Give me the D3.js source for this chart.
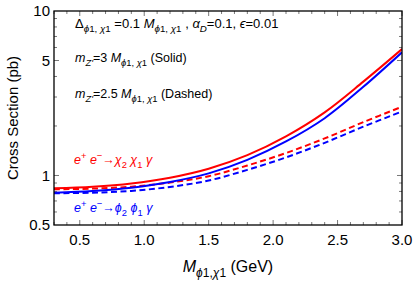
<!DOCTYPE html>
<html><head><meta charset="utf-8">
<script src="https://cdn.jsdelivr.net/npm/d3@7"></script>
<style>body{margin:0;background:#fff}svg{display:block}text{font-family:"Liberation Sans",Arial,sans-serif}</style>
</head><body>
<script>
const masses = [0.3,0.6,0.9,1.2,1.5,1.8,2.1,2.4,2.7,3.0];
const chiSolid = [0.836,0.855,0.895,0.970,1.100,1.330,1.730,2.420,3.720,5.865];
const phiSolid = [0.785,0.805,0.843,0.913,1.030,1.245,1.610,2.230,3.460,5.610];
const chiDashed = [0.824,0.832,0.855,0.905,0.990,1.150,1.370,1.680,2.110,2.618];
const phiDashed = [0.780,0.786,0.806,0.852,0.932,1.082,1.288,1.580,1.980,2.450];
const xTickLabels = [0.5,1.0,1.5,2.0,2.5,3.0];
const yTickLabels = [0.5,1,5,10];

const W=415,H=283;
const L=54,R=402,T=11,B=225;
const svg=d3.select("body").append("svg").attr("width",W).attr("height",H);
const x=d3.scaleLinear().domain([0.3,3.0]).range([L,R]);
const y=d3.scaleLog().domain([0.5,10]).range([B,T]);

// minor/major ticks
const xMinor=d3.range(3,31).map(d=>d/10);
const yMinor=[0.6,0.7,0.8,0.9,2,3,4,6,7,8,9];
const tk=svg.append("g").attr("stroke","#555").attr("stroke-width",0.8);
xMinor.forEach(v=>{
  const major=xTickLabels.some(m=>Math.abs(m-v)<1e-6);
  const len=major?5:3;
  tk.append("line").attr("x1",x(v)).attr("x2",x(v)).attr("y1",B).attr("y2",B-len);
  tk.append("line").attr("x1",x(v)).attr("x2",x(v)).attr("y1",T).attr("y2",T+len);
});
yMinor.concat([1,5]).forEach(v=>{
  const major=yTickLabels.includes(v);
  const len=major?5:3;
  tk.append("line").attr("y1",y(v)).attr("y2",y(v)).attr("x1",L).attr("x2",L+len);
  tk.append("line").attr("y1",y(v)).attr("y2",y(v)).attr("x1",R).attr("x2",R-len);
});

// curves
const line=d3.line().x(d=>x(d[0])).y(d=>y(d[1])).curve(d3.curveCatmullRom.alpha(0.5));
const series=[
  {v:phiDashed,c:"#0000ff",dash:"6,3.5"},
  {v:chiDashed,c:"#ff0000",dash:"6,3.5"},
  {v:phiSolid,c:"#0000ff",dash:null},
  {v:chiSolid,c:"#ff0000",dash:null}
];
svg.append("clipPath").attr("id","clip").append("rect").attr("x",L).attr("y",T).attr("width",R-L).attr("height",B-T);
const cg=svg.append("g").attr("clip-path","url(#clip)");
series.forEach(s=>{
  cg.append("path").attr("d",line(masses.map((m,i)=>[m,s.v[i]])))
    .attr("fill","none").attr("stroke",s.c).attr("stroke-width",2)
    .attr("stroke-dasharray",s.dash);
});

// frame
svg.append("rect").attr("x",L).attr("y",T).attr("width",R-L).attr("height",B-T)
  .attr("fill","none").attr("stroke","#000").attr("stroke-width",1.3);

// tick labels
svg.append("g").selectAll("text").data(xTickLabels).join("text")
  .attr("x",d=>x(d)).attr("y",B+20).attr("text-anchor","middle")
  .attr("font-size",15).text(d=>d.toFixed(1));
svg.append("g").selectAll("text").data(yTickLabels).join("text")
  .attr("x",L-4).attr("y",d=>y(d)+5.4).attr("text-anchor","end")
  .attr("font-size",15).text(d=>d);

// rich text helper
function rich(g,xp,yp,parts,size,color,anchor,subScale){
  const ss=subScale||0.75;
  const t=g.append("text").attr("x",xp).attr("y",yp).attr("font-size",size).attr("fill",color||"#000");
  if(anchor) t.attr("text-anchor",anchor);
  let shift=0;
  parts.forEach(p=>{
    const target = p.sub? size*0.32 : (p.sup? -size*0.4 : 0);
    const s=t.append("tspan").attr("dy",target-shift).text(p.t);
    shift=target;
    if(p.sub||p.sup) s.attr("font-size",size*ss);
    if(p.it) s.attr("font-style","italic");
  });
  return t;
}
const g=svg.append("g");
rich(g,75,28,[{t:"Δ"},{t:"ϕ",sub:1,it:1},{t:"1",sub:1},{t:",  ",sub:1},{t:"χ",sub:1,it:1},{t:"1",sub:1},
  {t:" =0.1 "},{t:"M",it:1},{t:"ϕ",sub:1,it:1},{t:"1",sub:1},{t:",  ",sub:1},{t:"χ",sub:1,it:1},{t:"1",sub:1},
  {t:" , "},{t:"α",it:1},{t:"D",sub:1,it:1},{t:"=0.1, "},{t:"ϵ",it:1},{t:"=0.01"}],13);
rich(g,75,62,[{t:"m",it:1},{t:"Z'",sub:1,it:1},{t:"=3 "},{t:"M",it:1},{t:"ϕ",sub:1,it:1},{t:"1",sub:1},{t:",  ",sub:1},{t:"χ",sub:1,it:1},{t:"1",sub:1},{t:"  (Solid)"}],12.5);
rich(g,75,98,[{t:"m",it:1},{t:"Z'",sub:1,it:1},{t:"=2.5 "},{t:"M",it:1},{t:"ϕ",sub:1,it:1},{t:"1",sub:1},{t:",  ",sub:1},{t:"χ",sub:1,it:1},{t:"1",sub:1},{t:"  (Dashed)"}],12.5);

rich(g,74,164,[{t:"e",it:1},{t:"+",sup:1},{t:" e",it:1},{t:"−",sup:1},{t:"→"},{t:"χ",it:1},{t:"2",sub:1},{t:" "},{t:"χ",it:1},{t:"1",sub:1},{t:" γ",it:1}],12.5,"#ff0000");
rich(g,74,212,[{t:"e",it:1},{t:"+",sup:1},{t:" e",it:1},{t:"−",sup:1},{t:"→"},{t:"ϕ",it:1},{t:"2",sub:1},{t:" "},{t:"ϕ",it:1},{t:"1",sub:1},{t:" γ",it:1}],12.5,"#0000ff");

// axis titles
svg.append("text").attr("transform",`translate(18,${(T+B)/2}) rotate(-90)`)
  .attr("text-anchor","middle").attr("font-size",15).text("Cross Section (pb)");
rich(g,228,272,[{t:"M",it:1},{t:"ϕ",sub:1,it:1},{t:"1",sub:1},{t:",",sub:1},{t:"χ",sub:1,it:1},{t:"1",sub:1},{t:" (GeV)"}],16,"#000","middle");
</script>
</body></html>
